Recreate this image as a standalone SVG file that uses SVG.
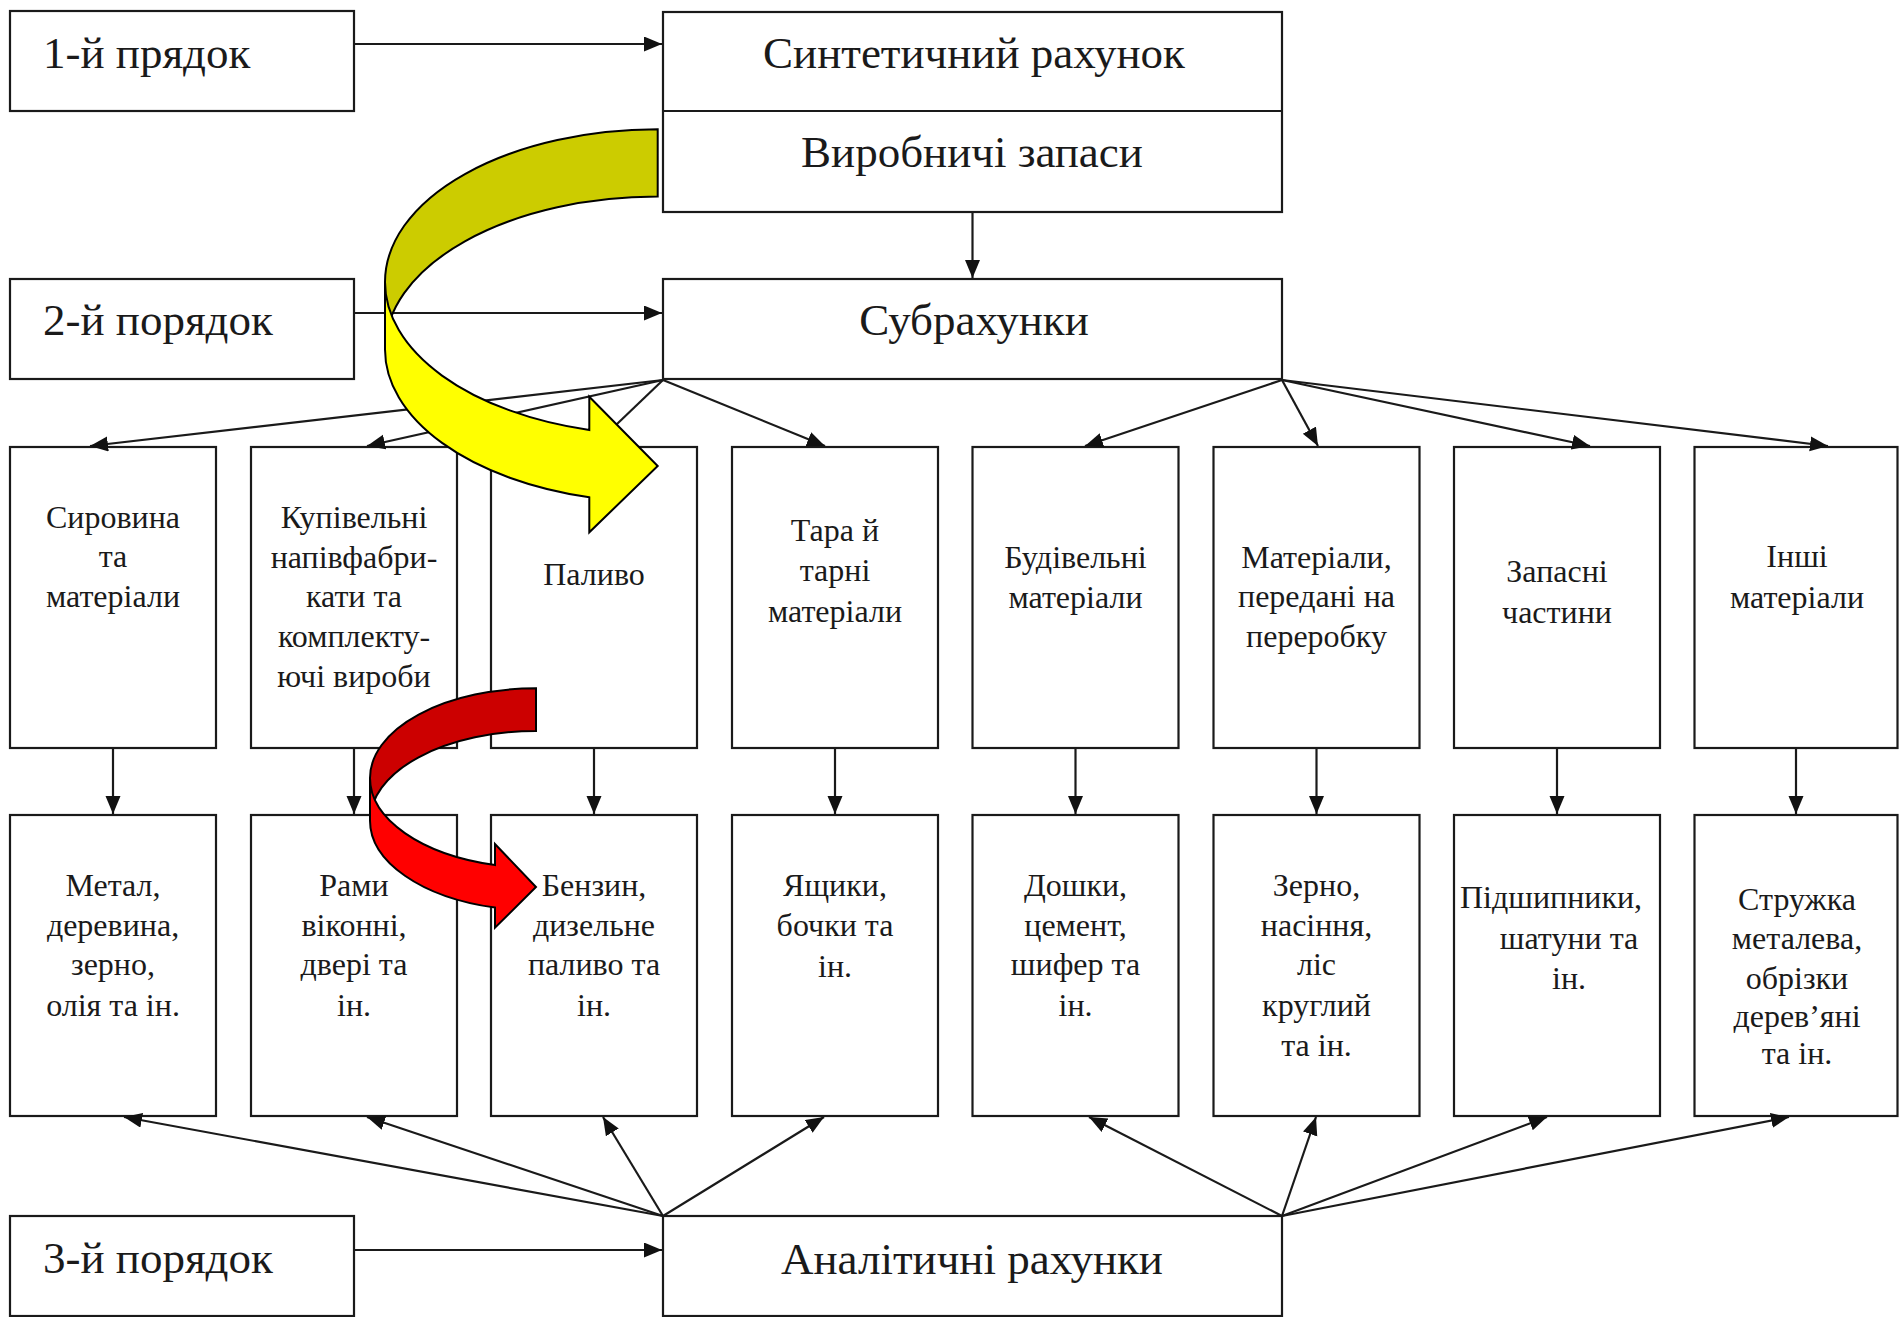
<svg xmlns="http://www.w3.org/2000/svg" width="1899" height="1317" viewBox="0 0 1899 1317">
<defs>
<style>
.box{fill:#fff;stroke:#1a1a1a;stroke-width:2.2}
.t{font-family:"Liberation Serif","DejaVu Serif",serif;fill:#1a1a1a}
.big{font-size:45px}
.sm{font-size:32px;text-anchor:middle}
.mid{text-anchor:middle}
.con{stroke:#1a1a1a;stroke-width:2.2;fill:none;marker-end:url(#ah)}
.blk{stroke:#000;stroke-width:2;stroke-linejoin:miter}
</style>
<marker id="ah" markerUnits="userSpaceOnUse" markerWidth="20" markerHeight="16" refX="18" refY="7.5" orient="auto">
<path d="M0,0 L18,7.5 L0,15 Z" fill="#111"/>
</marker>
</defs>
<rect width="1899" height="1317" fill="#fff"/>

<g id="level1"><rect class="box" x="10" y="11" width="344" height="100"/><text class="t big" x="43" y="68">1-й прядок</text></g>
<g id="level2"><rect class="box" x="10" y="279" width="344" height="100"/><text class="t big" x="43" y="335">2-й порядок</text></g>
<g id="level3"><rect class="box" x="10" y="1216" width="344" height="100"/><text class="t big" x="43" y="1273">3-й порядок</text></g>

<g id="synthetic"><rect class="box" x="663" y="12" width="619" height="200"/><line x1="663" y1="111" x2="1282" y2="111" stroke="#1a1a1a" stroke-width="2.2"/>
<text class="t big mid" x="974" y="68">Синтетичний рахунок</text>
<text class="t big mid" x="972" y="167">Виробничі запаси</text></g>
<g id="subaccounts"><rect class="box" x="663" y="279" width="619" height="100"/><text class="t big mid" x="974" y="335">Субрахунки</text></g>
<g id="analytic"><rect class="box" x="663" y="1216" width="619" height="100"/><text class="t big mid" x="972" y="1274">Аналітичні рахунки</text></g>

<g id="s1"><rect class="box" x="10" y="447" width="206" height="301"/><text class="t sm" x="113"><tspan x="113" y="528">Сировина</tspan><tspan x="113" y="567">та</tspan><tspan x="113" y="607">матеріали</tspan></text></g>
<g id="s2"><rect class="box" x="251" y="447" width="206" height="301"/><text class="t sm"><tspan x="354" y="528">Купівельні</tspan><tspan x="354" y="568">напівфабри-</tspan><tspan x="354" y="607">кати та</tspan><tspan x="354" y="647">комплекту-</tspan><tspan x="354" y="687">ючі вироби</tspan></text></g>
<g id="s3"><rect class="box" x="491" y="447" width="206" height="301"/><text class="t sm" x="594" y="585">Паливо</text></g>
<g id="s4"><rect class="box" x="732" y="447" width="206" height="301"/><text class="t sm"><tspan x="835" y="541">Тара й</tspan><tspan x="835" y="581">тарні</tspan><tspan x="835" y="622">матеріали</tspan></text></g>
<g id="s5"><rect class="box" x="972.5" y="447" width="206" height="301"/><text class="t sm"><tspan x="1075.5" y="568">Будівельні</tspan><tspan x="1075.5" y="608">матеріали</tspan></text></g>
<g id="s6"><rect class="box" x="1213.5" y="447" width="206" height="301"/><text class="t sm"><tspan x="1316.5" y="568">Матеріали,</tspan><tspan x="1316.5" y="607">передані на</tspan><tspan x="1316.5" y="647">переробку</tspan></text></g>
<g id="s7"><rect class="box" x="1454" y="447" width="206" height="301"/><text class="t sm"><tspan x="1557" y="582">Запасні</tspan><tspan x="1557" y="623">частини</tspan></text></g>
<g id="s8"><rect class="box" x="1694.5" y="447" width="203" height="301"/><text class="t sm"><tspan x="1797" y="567">Інші</tspan><tspan x="1797" y="608">матеріали</tspan></text></g>

<g id="a1"><rect class="box" x="10" y="815" width="206" height="301"/><text class="t sm"><tspan x="113" y="896">Метал,</tspan><tspan x="113" y="936">деревина,</tspan><tspan x="113" y="975">зерно,</tspan><tspan x="113" y="1016">олія та ін.</tspan></text></g>
<g id="a2"><rect class="box" x="251" y="815" width="206" height="301"/><text class="t sm"><tspan x="354" y="896">Рами</tspan><tspan x="354" y="936">віконні,</tspan><tspan x="354" y="975">двері та</tspan><tspan x="354" y="1016">ін.</tspan></text></g>
<g id="a3"><rect class="box" x="491" y="815" width="206" height="301"/><text class="t sm"><tspan x="594" y="896">Бензин,</tspan><tspan x="594" y="936">дизельне</tspan><tspan x="594" y="975">паливо та</tspan><tspan x="594" y="1016">ін.</tspan></text></g>
<g id="a4"><rect class="box" x="732" y="815" width="206" height="301"/><text class="t sm"><tspan x="835" y="896">Ящики,</tspan><tspan x="835" y="936">бочки та</tspan><tspan x="835" y="977">ін.</tspan></text></g>
<g id="a5"><rect class="box" x="972.5" y="815" width="206" height="301"/><text class="t sm"><tspan x="1075.5" y="896">Дошки,</tspan><tspan x="1075.5" y="936">цемент,</tspan><tspan x="1075.5" y="975">шифер та</tspan><tspan x="1075.5" y="1016">ін.</tspan></text></g>
<g id="a6"><rect class="box" x="1213.5" y="815" width="206" height="301"/><text class="t sm"><tspan x="1316.5" y="896">Зерно,</tspan><tspan x="1316.5" y="936">насіння,</tspan><tspan x="1316.5" y="975">ліс</tspan><tspan x="1316.5" y="1016">круглий</tspan><tspan x="1316.5" y="1056">та ін.</tspan></text></g>
<g id="a7"><rect class="box" x="1454" y="815" width="206" height="301"/><text class="t sm"><tspan x="1551" y="908">Підшипники,</tspan><tspan x="1569" y="949">шатуни та</tspan><tspan x="1569" y="989">ін.</tspan></text></g>
<g id="a8"><rect class="box" x="1694.5" y="815" width="203" height="301"/><text class="t sm"><tspan x="1797" y="910">Стружка</tspan><tspan x="1797" y="949">металева,</tspan><tspan x="1797" y="989">обрізки</tspan><tspan x="1797" y="1027">дерев’яні</tspan><tspan x="1797" y="1064">та ін.</tspan></text></g>

<g id="connectors">
<line class="con" x1="354" y1="44" x2="662" y2="44"/>
<line class="con" x1="354" y1="313" x2="662" y2="313"/>
<line class="con" x1="354" y1="1250" x2="662" y2="1250"/>
<line class="con" x1="972.5" y1="212" x2="972.5" y2="278"/>
<line class="con" x1="663" y1="380" x2="90" y2="446"/>
<line class="con" x1="663" y1="380" x2="367" y2="446"/>
<line class="con" x1="663" y1="380" x2="594" y2="446"/>
<line class="con" x1="663" y1="380" x2="825" y2="446"/>
<line class="con" x1="1282" y1="380" x2="1085" y2="446"/>
<line class="con" x1="1282" y1="380" x2="1318" y2="446"/>
<line class="con" x1="1282" y1="380" x2="1590" y2="446"/>
<line class="con" x1="1282" y1="380" x2="1828" y2="446"/>
<line class="con" x1="113" y1="748" x2="113" y2="814"/>
<line class="con" x1="354" y1="748" x2="354" y2="814"/>
<line class="con" x1="594" y1="748" x2="594" y2="814"/>
<line class="con" x1="835" y1="748" x2="835" y2="814"/>
<line class="con" x1="1075.5" y1="748" x2="1075.5" y2="814"/>
<line class="con" x1="1316.5" y1="748" x2="1316.5" y2="814"/>
<line class="con" x1="1557" y1="748" x2="1557" y2="814"/>
<line class="con" x1="1796" y1="748" x2="1796" y2="814"/>
<line class="con" x1="663" y1="1216" x2="124" y2="1117"/>
<line class="con" x1="663" y1="1216" x2="367" y2="1117"/>
<line class="con" x1="663" y1="1216" x2="603" y2="1117"/>
<line class="con" x1="663" y1="1216" x2="824" y2="1117"/>
<line class="con" x1="1282" y1="1216" x2="1089" y2="1117"/>
<line class="con" x1="1282" y1="1216" x2="1316" y2="1117"/>
<line class="con" x1="1282" y1="1216" x2="1547" y2="1117"/>
<line class="con" x1="1282" y1="1216" x2="1789" y2="1117"/>
</g>

<g id="yellow-arrow">
<path class="blk" fill="#CCCC00" d="M657.7,129.3 A272.7,152.8 0 0 0 385,282 L385,349.4 A272.7,152.8 0 0 1 657.7,196.6 Z"/>
<path class="blk" fill="#FFFF00" d="M385,282 A272.7,152.8 0 0 0 589.3,430 L589.3,396.7 L657.7,466 L589.3,532.3 L589.3,497.3 A272.7,152.8 0 0 1 385,349.4 Z"/>
</g>
<g id="red-arrow">
<path class="blk" fill="#CC0000" d="M536,688.3 A166,89.7 0 0 0 370,778 L370,820.7 A166,89.7 0 0 1 536,731 Z"/>
<path class="blk" fill="#FF0000" d="M370,778 A166,89.7 0 0 0 495,865 L495,844 L536,887 L495,927.7 L495,907.6 A166,89.7 0 0 1 370,820.7 Z"/>
</g>
</svg>
